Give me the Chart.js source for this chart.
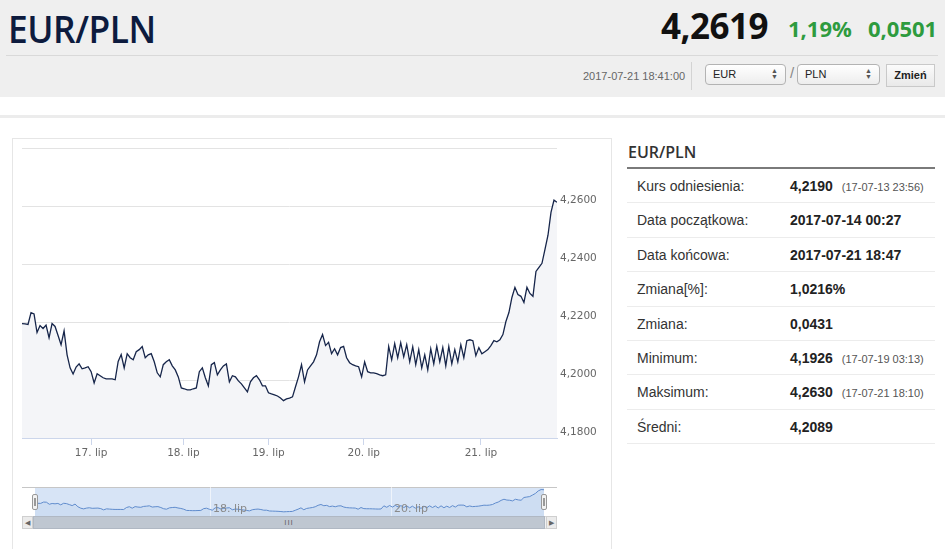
<!DOCTYPE html>
<html>
<head>
<meta charset="utf-8">
<script src="https://cdn.jsdelivr.net/npm/chart.js@4/dist/chart.umd.min.js"></script>
<style>
  body { margin:0; width:945px; height:549px; overflow:hidden; background:#fff; font-family:"Liberation Sans", Arial, sans-serif; position:relative; }
  .abs { position:absolute; }
  #band { left:0; top:0; width:945px; height:97px; background:#efefef; }
  #title { left:8px; top:2px; font-family:"Open Sans"; font-weight:600; font-size:38px; color:#0d1b3e; transform-origin:left center; transform:scaleX(0.93); letter-spacing:-0.5px; }
  #rate { left:661px; top:2px; font-family:"Open Sans"; font-weight:700; font-size:35px; color:#111; letter-spacing:-0.5px; }
  .chg { top:13px; font-family:"Open Sans"; font-weight:700; font-size:22px; color:#2e9b3e; }
  #sep1 { left:6px; top:55px; width:932px; height:1px; background:#d9d9d9; }
  #stamp { left:583px; top:70px; font-size:11px; color:#666; }
  #vsep { left:691px; top:62px; width:1px; height:28px; background:#d3d3d3; }
  .sel { top:64px; height:21px; border:1px solid #b3b3b3; border-radius:4px; background:linear-gradient(#fff,#ededed); font-size:11px; color:#222; box-sizing:border-box; padding:3px 0 0 7px; }
  .sel .ar { position:absolute; right:7px; top:3px; font-size:7px; line-height:6px; color:#555; }
  #slash { left:790px; top:64px; font-size:15px; color:#888; }
  #btn { left:886px; top:64px; width:49px; height:23px; border:1px solid #c9c9c9; background:linear-gradient(#fbfbfb,#e9e9e9); box-sizing:border-box; font-size:11px; font-weight:bold; color:#222; text-align:center; line-height:21px; }
  #line2 { left:0; top:115px; width:945px; height:3px; background:#ececec; }
  #panel { left:12px; top:138px; width:600px; height:412px; border:1px solid #e6e6e6; box-sizing:border-box; }
  #mainWrap { left:12px; top:139px; width:600px; height:330px; }
  #navBox { left:22px; top:487px; width:535px; height:29px; border-top:1px solid #c6c6c6; box-sizing:border-box; }
  #navMask { left:35px; top:488px; width:509px; height:28px; background:#d7e4f6; }
  #navWrap { left:35px; top:487px; width:509px; height:29px; }
  .handle { top:494px; width:6px; height:16px; background:#f2f2f2; border:1px solid #999; border-radius:2px; box-sizing:border-box; }
  .handle:after { content:""; position:absolute; left:1px; top:3px; width:2px; height:8px; border-left:1px solid #999; border-right:1px solid #999; box-sizing:border-box; }
  #sbTrack { left:22px; top:516px; width:535px; height:13px; background:#f2f2f2; border:1px solid #d6d6d6; box-sizing:border-box; }
  #sbThumb { left:33px; top:516px; width:512px; height:13px; background:#bfc7d1; border:1px solid #b0b8c3; box-sizing:border-box; color:#666; font-size:8px; text-align:center; line-height:11px; letter-spacing:1px; }
  .sbBtn { top:516px; width:11px; height:13px; background:#ebebeb; border:1px solid #cfcfcf; box-sizing:border-box; font-size:7px; color:#666; text-align:center; line-height:11px; }
  #tblHead { left:628px; top:141px; font-family:"Open Sans"; font-weight:600; font-size:16px; color:#333; }
  #tblLine { left:627px; top:167px; width:308px; height:2px; background:#7a7a7a; }
  #tbl { left:627px; top:169px; width:308px; }
  .row { height:33.4px; border-bottom:1px solid #ececec; position:relative; font-size:14px; color:#333; }
  .row .k { position:absolute; left:10px; top:9px; }
  .row .v { position:absolute; left:163px; top:9px; font-weight:bold; color:#222; white-space:nowrap; }
  .row .d { font-size:11px; font-weight:normal; color:#555; margin-left:9px; }
</style>
</head>
<body>
<div id="band" class="abs"></div>
<div id="title" class="abs">EUR/PLN</div>
<div id="rate" class="abs">4,2619</div>
<div class="abs chg" style="left:788px">1,19%</div>
<div class="abs chg" style="left:868px">0,0501</div>
<div id="sep1" class="abs"></div>
<div id="stamp" class="abs">2017-07-21 18:41:00</div>
<div id="vsep" class="abs"></div>
<div class="abs sel" style="left:705px;width:81px">EUR<span class="ar">▲<br>▼</span></div>
<div id="slash" class="abs">/</div>
<div class="abs sel" style="left:797px;width:83px">PLN<span class="ar">▲<br>▼</span></div>
<div id="btn" class="abs">Zmień</div>
<div id="line2" class="abs"></div>

<div id="panel" class="abs"></div>
<div id="mainWrap" class="abs"><canvas id="main" width="600" height="330"></canvas></div>
<div id="navBox" class="abs"></div>
<div id="navMask" class="abs"></div>
<div id="navWrap" class="abs"><canvas id="nav" width="509" height="29"></canvas></div>
<div class="abs handle" style="left:32px"></div>
<div class="abs handle" style="left:541px"></div>
<div id="sbTrack" class="abs"></div>
<div id="sbThumb" class="abs">III</div>
<div class="abs sbBtn" style="left:22px">◀</div>
<div class="abs sbBtn" style="left:546px">▶</div>

<div id="tblHead" class="abs">EUR/PLN</div>
<div id="tblLine" class="abs"></div>
<div id="tbl" class="abs"></div>

<script>
// EUR/PLN quotes, 14.07 00:27 - 21.07 18:47 (ordinal axis, weekend skipped)
const rates = [
  4.2195,4.2194,4.2192,4.2233,4.2228,4.2164,4.2188,4.2178,4.2190,4.2146,
  4.2195,4.2185,4.2154,4.2122,4.2170,4.2087,4.2042,4.2021,4.2045,4.2056,
  4.2039,4.2042,4.2046,4.2029,4.1990,4.2022,4.2015,4.2008,4.2004,4.2004,
  4.2004,4.2001,4.2064,4.2088,4.2042,4.2091,4.2077,4.2070,4.2098,4.2105,
  4.2116,4.2077,4.2087,4.2091,4.2063,4.2025,4.2011,4.2053,4.2063,4.2070,
  4.2049,4.2035,4.2011,4.1973,4.1970,4.1966,4.1966,4.1970,4.1973,4.2029,
  4.2042,4.2008,4.1980,4.2053,4.2060,4.2018,4.2035,4.2049,4.2056,4.1994,
  4.2015,4.2011,4.1997,4.1987,4.1973,4.1959,4.1994,4.2008,4.2015,4.2001,
  4.1980,4.1980,4.1956,4.1952,4.1949,4.1945,4.1938,4.1929,4.1935,4.1938,
  4.1942,4.1977,4.2011,4.2053,4.1994,4.2035,4.2049,4.2063,4.2087,4.2132,
  4.2157,4.2119,4.2130,4.2091,4.2108,4.2087,4.2112,4.2116,4.2077,4.2060,
  4.2053,4.2049,4.2046,4.2011,4.2063,4.2029,4.2025,4.2025,4.2022,4.2018,
  4.2015,4.2018,4.2116,4.2070,4.2126,4.2077,4.2129,4.2080,4.2122,4.2063,
  4.2115,4.2053,4.2105,4.2042,4.2087,4.2035,4.2108,4.2056,4.2116,4.2063,
  4.2112,4.2049,4.2116,4.2056,4.2105,4.2063,4.2122,4.2077,4.2136,4.2139,
  4.2136,4.2084,4.2112,4.2091,4.2098,4.2105,4.2119,4.2136,4.2132,4.2139,
  4.2157,4.2202,4.2233,4.2285,4.2320,4.2295,4.2289,4.2268,4.2320,4.2299,
  4.2289,4.2375,4.2389,4.2403,4.2451,4.2500,4.2579,4.2621,4.2614
];

// day ticks (position in the ordinal series) and their labels
const dayTickIdx = [23, 53.7, 82, 113.7, 152.7];
const dayLabels = ['17. lip', '18. lip', '19. lip', '20. lip', '21. lip'];
const navTickIdx = [61.2, 124.5];
const navLabels = ['18. lip', '20. lip'];

const yMin = 4.18, yMax = 4.28, yStep = 0.02;

// stats table
const statKeys = ['Kurs odniesienia:', 'Data początkowa:', 'Data końcowa:', 'Zmiana[%]:', 'Zmiana:', 'Minimum:', 'Maksimum:', 'Średni:'];
const statVals = ['4,2190', '2017-07-14 00:27', '2017-07-21 18:47', '1,0216%', '0,0431', '4,1926', '4,2630', '4,2089'];
const statDates = ['(17-07-13 23:56)', '', '', '', '', '(17-07-19 03:13)', '(17-07-21 18:10)', ''];

document.getElementById('tbl').innerHTML = statKeys.map((k, i) =>
  `<div class="row"><span class="k">${k}</span><span class="v">${statVals[i]}${statDates[i] ? `<span class="d">${statDates[i]}</span>` : ''}</span></div>`
).join('');

Chart.defaults.font.family = '"DejaVu Sans", sans-serif';
Chart.defaults.font.size = 10.5;
Chart.defaults.color = '#666';

const pts = rates.map((v, i) => ({ x: i, y: v }));

new Chart(document.getElementById('main'), {
  type: 'line',
  data: { datasets: [{ data: pts, borderColor: '#16254a', borderWidth: 1.3, pointRadius: 0, tension: 0, fill: 'start', backgroundColor: '#f4f5f8' }] },
  options: {
    responsive: false, animation: false,
    layout: { padding: { left: 10, top: 9, right: 0, bottom: 0 } },
    plugins: { legend: { display: false }, tooltip: { enabled: false } },
    scales: {
      x: {
        type: 'linear', min: 0, max: rates.length - 1,
        afterBuildTicks: s => { s.ticks = dayTickIdx.map(v => ({ value: v })); },
        afterFit: s => { s.height = 31; },
        ticks: { callback: (v, i) => dayLabels[i], padding: 2, maxRotation: 0, autoSkip: false },
        grid: { drawOnChartArea: false, tickLength: 7, color: '#ccd6eb' },
        border: { color: '#ccd6eb' }
      },
      y: {
        position: 'right', min: yMin, max: yMax,
        afterFit: s => { s.width = 55; },
        ticks: { stepSize: yStep, padding: 3, labelOffset: -6, callback: v => v > yMax - 0.001 ? '' : v.toFixed(4).replace('.', ',') },
        grid: { color: '#e3e3e3', drawTicks: false },
        border: { display: false }
      }
    }
  }
});

// navigator labels sit inside the strip, so they are written at the x scale's own tick pixels
const navLabelPlugin = {
  id: 'navLabels',
  afterDraw(chart) {
    const { ctx, scales: { x }, chartArea } = chart;
    ctx.save();
    ctx.font = '11px "DejaVu Sans", sans-serif';
    ctx.fillStyle = '#8a8a8a';
    ctx.textBaseline = 'middle';
    navTickIdx.forEach((v, i) => ctx.fillText(navLabels[i], x.getPixelForValue(v) + 3, chartArea.bottom - 7));
    ctx.restore();
  }
};

new Chart(document.getElementById('nav'), {
  type: 'line',
  data: { datasets: [{ data: pts, borderColor: '#5f8bcc', borderWidth: 1, pointRadius: 0, tension: 0, fill: 'start', backgroundColor: 'rgba(95,139,204,0.08)' }] },
  options: {
    responsive: false, animation: false,
    layout: { padding: 0 },
    plugins: { legend: { display: false }, tooltip: { enabled: false } },
    scales: {
      x: {
        type: 'linear', min: 0, max: rates.length - 1,
        afterBuildTicks: s => { s.ticks = navTickIdx.map(v => ({ value: v })); },
        afterFit: s => { s.height = 0; },
        ticks: { display: false },
        grid: { drawTicks: false, color: 'rgba(255,255,255,0.6)' },
        border: { display: false }
      },
      y: { display: false, min: 4.18, max: 4.27 }
    }
  },
  plugins: [navLabelPlugin]
});
</script>
</body>
</html>
